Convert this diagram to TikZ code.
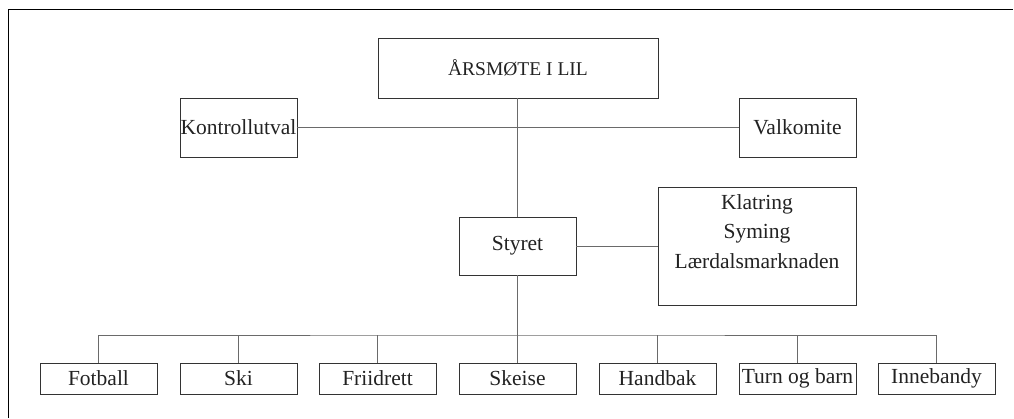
\documentclass[tikz,border=0pt]{standalone}
\usepackage{fontspec}
\setmainfont{Liberation Serif}
\definecolor{boxc}{HTML}{333333}
\definecolor{linec}{HTML}{6A6A6A}
\definecolor{txtc}{HTML}{222222}
\begin{document}
\begin{tikzpicture}[x=1pt,y=-1pt,
  orgbox/.style={draw=boxc, line width=0.9pt, rectangle, inner sep=0pt, text=txtc,
    font=\fontsize{21.5}{29.5}\selectfont, align=center},
  small/.style={orgbox, minimum width=117pt, minimum height=59pt},
  unit/.style={orgbox, minimum width=117pt, minimum height=31pt},
  conn/.style={draw=linec, line width=0.9pt}]
\useasboundingbox (0,0) rectangle (1014,418);
\draw[line width=0.9pt, black] (8,418) -- (8,9) -- (1013,9);

\node[orgbox, minimum width=280pt, minimum height=60pt, font=\fontsize{19.5}{24}\selectfont] (aars) at (518,68) {ÅRSMØTE I LIL};
\node[small] (kontroll) at (238.5,127.5) {Kontrollutval};
\node[small] (valk) at (797.5,127.5) {Valkomite};
\node[orgbox, minimum width=117pt, minimum height=58pt] (styret) at (517.5,246) {Styret};
\node[orgbox, minimum width=198pt, minimum height=118pt] (klat) at (757,246) {Klatring\\Syming\\Lærdalsmarknaden\\\mbox{}};

\node[unit] (fotball) at (98.5,378.5) {Fotball};
\node[unit] (ski) at (238.5,378.5) {Ski};
\node[unit] (friidrett) at (377.5,378.5) {Friidrett};
\node[unit] (skeise) at (517.5,378.5) {Skeise};
\node[unit] (handbak) at (657.5,378.5) {Handbak};
\node[unit] (turn) at (797.5,378.5) {Turn og barn};
\node[unit] (inne) at (936.5,378.5) {Innebandy};

\coordinate (bus) at (517.5,335);
\draw[conn] (kontroll.east) -- (valk.west);
\draw[conn] (styret.north) -- (styret.north |- aars.south);
\draw[conn] (styret.east) -- (klat.west);
\draw[conn] (styret.south) -- (skeise.north);
\draw[conn] (fotball.north) |- (bus) -| (inne.north);
\draw[conn] (ski.north) -- (ski.north |- bus);
\draw[conn] (friidrett.north) -- (friidrett.north |- bus);
\draw[conn] (handbak.north) -- (handbak.north |- bus);
\draw[conn] (turn.north) -- (turn.north |- bus);
\end{tikzpicture}
\end{document}
